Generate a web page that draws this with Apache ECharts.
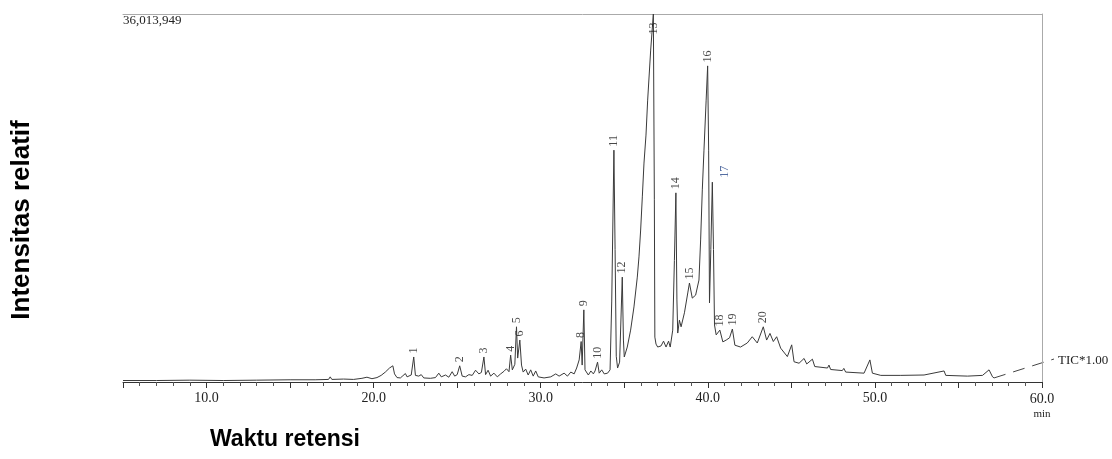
<!DOCTYPE html>
<html>
<head>
<meta charset="utf-8">
<script src="https://cdn.jsdelivr.net/npm/echarts@6/dist/echarts.min.js"></script>
<style>
    html, body { margin: 0; padding: 0; background: #fff; }
    #chart { width: 1112px; height: 459px; }
</style>
</head>
<body>
<div id="chart"></div>
<script>
// TIC trace: retention time (min) and relative intensity (% of 36,013,949)
var retentionTime = [
    5.0, 7.0, 9.0, 11.0, 13.0, 15.0, 16.5, 17.3, 17.4, 17.5, 18.2, 18.8, 19.3, 19.6, 19.9,
    20.2, 20.45, 20.7, 20.95, 21.15, 21.25, 21.4, 21.6, 21.75, 21.9, 22.0, 22.25, 22.4, 22.5, 22.7,
    22.85, 23.0, 23.4, 23.7, 23.9, 24.05, 24.3, 24.5, 24.7, 24.85, 25.0, 25.15, 25.3, 25.5, 25.7,
    25.9, 26.1, 26.3, 26.45, 26.6, 26.7, 26.85, 27.0, 27.2, 27.4, 27.6, 27.8, 27.95, 28.1, 28.2,
    28.3, 28.45, 28.55, 28.62, 28.75, 28.85, 28.95, 29.1, 29.25, 29.4, 29.55, 29.7, 29.85, 30.2, 30.6,
    30.9, 31.1, 31.4, 31.6, 31.8, 32.0, 32.15, 32.3, 32.42, 32.48, 32.58, 32.65, 32.85, 33.0, 33.15,
    33.25, 33.4, 33.5, 33.65, 33.8, 34.0, 34.15, 34.25, 34.38, 34.45, 34.52, 34.6, 34.72, 34.88, 34.95,
    35.0, 35.18, 35.38, 35.58, 35.78, 35.88, 35.98, 36.08, 36.18, 36.3, 36.4, 36.58, 36.74, 36.8, 36.83,
    36.9, 37.0, 37.2, 37.35, 37.5, 37.65, 37.75, 37.9, 38.0, 38.09, 38.15, 38.2, 38.3, 38.4, 38.6,
    38.8, 38.9, 39.07, 39.27, 39.47, 39.57, 39.67, 39.77, 39.9, 39.99, 40.05, 40.1, 40.18, 40.27, 40.34,
    40.4, 40.5, 40.6, 40.72, 40.9, 41.1, 41.3, 41.47, 41.62, 41.96, 42.36, 42.66, 42.96, 43.32, 43.52,
    43.72, 43.92, 44.12, 44.36, 44.76, 45.02, 45.16, 45.46, 45.76, 45.92, 46.26, 46.4, 47.16, 47.25, 47.35,
    48.05, 48.14, 48.25, 49.35, 49.7, 49.85, 50.35, 51.55, 52.94, 54.14, 54.24, 55.54, 56.44, 56.83, 57.04,
    57.13
];
var intensity = [
    0.4, 0.4, 0.5, 0.4, 0.5, 0.6, 0.6, 0.7, 1.4, 0.7, 0.8, 0.7, 1.0, 1.3, 0.9,
    1.2, 1.8, 2.7, 3.8, 4.4, 2.2, 1.2, 1.1, 1.7, 2.3, 1.4, 1.9, 6.8, 1.8, 1.6,
    2.0, 1.1, 1.0, 1.2, 2.4, 1.4, 1.9, 1.3, 2.8, 1.6, 2.0, 4.4, 1.6, 1.4, 2.0,
    1.8, 3.2, 2.2, 2.6, 6.8, 2.0, 3.2, 1.6, 2.4, 1.4, 2.2, 2.9, 3.6, 2.8, 7.3,
    3.3, 4.8, 15.0, 6.5, 11.4, 4.6, 2.7, 3.5, 1.9, 3.3, 1.6, 3.0, 1.4, 1.1, 1.4,
    2.2, 1.6, 2.4, 1.6, 2.7, 2.2, 3.8, 6.0, 11.0, 4.6, 19.6, 3.3, 1.9, 3.0, 2.2,
    3.0, 5.4, 2.4, 3.3, 2.2, 2.4, 3.3, 22, 63, 36, 7, 3.8, 5.4, 28.5, 11.4,
    6.8, 9.5, 14.1, 20.4, 28.5, 34, 41.3, 50.3, 59.5, 67.1, 76.6, 90.2, 100, 49.5, 12.2,
    10.3, 9.5, 9.8, 11.1, 9.5, 11.1, 9.5, 14.1, 33, 51.4, 22.3, 13.3, 16.8, 15, 18.8,
    24.2, 26.9, 22.8, 23.6, 27.7, 38.6, 52.2, 63, 76.6, 85.9, 63, 21.5, 36, 54.3, 36,
    15.5, 12.8, 13.3, 14.1, 10.9, 11.4, 12, 14.4, 10, 9.5, 10.6, 12.3, 10.6, 15.0, 11.4,
    13.2, 11, 12.3, 9.2, 6.9, 10.1, 5.5, 5.1, 6.4, 4.9, 6.2, 4.2, 3.8, 4.6, 3.4,
    3.1, 3.7, 2.7, 2.4, 6.0, 2.4, 1.8, 1.8, 1.9, 3.0, 1.8, 1.6, 1.8, 3.3, 1.4,
    1.1
];

// numbered peaks
var peakNames = ['1', '2', '3', '4', '5', '6', '8', '9', '10', '11', '12', '13', '14', '15', '16', '17', '18', '19', '20'];
var peakTimes = [22.4, 25.15, 26.6, 28.2, 28.55, 28.75, 32.42, 32.58, 33.4, 34.38, 34.88, 36.74, 38.09, 38.9, 39.99, 40.27, 40.72, 41.47, 43.32];

var xTickLabels = ['10.0', '20.0', '30.0', '40.0', '50.0', '60.0'];
var maxCount = '36,013,949';

var traceData = retentionTime.map(function (t, i) { return [t, intensity[i]]; });

// height of the trace at a peak time
function heightAt(t) {
    var best = 0, d = Infinity;
    retentionTime.forEach(function (rt, i) {
        if (Math.abs(rt - t) < d) { d = Math.abs(rt - t); best = intensity[i]; }
    });
    return best;
}

var peakData = peakNames.map(function (name, i) {
    var item = { name: name, value: [peakTimes[i], heightAt(peakTimes[i])] };
    if (name === '13') {
        item.label = { position: 'bottom', align: 'right', distance: 8 };
    }
    if (name === '17') {
        // label sits a bit to the right of its peak
        item.label = { color: '#2b4a8b', offset: [0, 13], distance: 4 };
    }
    return item;
});

var serif = '"Liberation Serif", "DejaVu Serif", serif';
var sans = '"Liberation Sans", Arial, sans-serif';

var myChart = echarts.init(document.getElementById('chart'));

var option = {
    animation: false,
    grid: { left: 123, right: 70, top: 14, bottom: 77 },
    xAxis: [
        {
            type: 'value', min: 5, max: 60, interval: 1, position: 'bottom',
            axisLine: { lineStyle: { color: '#333', width: 1 } },
            axisTick: { length: 4, lineStyle: { color: '#555' } },
            axisLabel: { show: false },
            splitLine: { show: false }
        },
        {
            type: 'value', min: 5, max: 60, interval: 5, position: 'bottom',
            axisLine: { show: false },
            axisTick: { length: 6, lineStyle: { color: '#333' } },
            axisLabel: {
                margin: 9,
                showMaxLabel: true,
                showMinLabel: true,
                fontFamily: serif,
                fontSize: 14,
                color: '#222',
                formatter: function (v) {
                    var s = v.toFixed(1);
                    if (xTickLabels.indexOf(s) < 0) return '';
                    if (v === 60) return '{a|' + s + '}\n{b|min}';
                    return s;
                },
                rich: {
                    a: { fontFamily: serif, fontSize: 14, color: '#222', lineHeight: 16 },
                    b: { fontFamily: serif, fontSize: 11, color: '#222', lineHeight: 14 }
                }
            },
            splitLine: { show: false }
        },
        {
            type: 'value', min: 5, max: 60, position: 'top',
            axisLine: { lineStyle: { color: '#aaa', width: 1 } },
            axisTick: { show: false },
            axisLabel: { show: false },
            splitLine: { show: false }
        }
    ],
    yAxis: [
        {
            type: 'value', min: 0, max: 100,
            axisLine: { show: false },
            axisTick: { show: false },
            axisLabel: { show: false },
            splitLine: { show: false }
        },
        {
            type: 'value', min: 0, max: 100, position: 'right',
            axisLine: { show: true, lineStyle: { color: '#aaa', width: 1 } },
            axisTick: { show: false },
            axisLabel: { show: false },
            splitLine: { show: false }
        }
    ],
    series: [
        {
            name: 'TIC',
            type: 'line',
            data: traceData,
            showSymbol: false,
            lineStyle: { color: '#3a3a3a', width: 1 },
            z: 3
        },
        {
            name: 'peaks',
            type: 'scatter',
            data: peakData,
            symbolSize: 1,
            itemStyle: { color: 'rgba(0,0,0,0)' },
            label: {
                show: true,
                position: 'top',
                distance: 3,
                rotate: 90,
                align: 'left',
                verticalAlign: 'middle',
                fontFamily: serif,
                fontSize: 12,
                color: '#1a1a1a',
                formatter: '{b}'
            },
            z: 4
        }
    ]
};

myChart.setOption(option);

// texts and the dashed leader from the end of the trace to the TIC label
var p0 = myChart.convertToPixel({ xAxisIndex: 0, yAxisIndex: 0 }, [57.13, 1.1]);
myChart.setOption({
    graphic: [
        {
            id: 'maxCount', type: 'text', left: 123, top: 14,
            style: { text: maxCount, font: '13px ' + serif, fill: '#222' }
        },
        {
            id: 'ticLabel', type: 'text', left: 1058, top: 354,
            style: { text: 'TIC*1.00', font: '13px ' + serif, fill: '#222' }
        },
        {
            id: 'yTitle', type: 'text', x: 22, y: 220, rotation: Math.PI / 2,
            style: { text: 'Intensitas relatif', font: 'bold 26px ' + sans, fill: '#000', align: 'center', verticalAlign: 'middle' }
        },
        {
            id: 'xTitle', type: 'text', x: 285, y: 440,
            style: { text: 'Waktu retensi', font: 'bold 23px ' + sans, fill: '#000', align: 'center', verticalAlign: 'middle' }
        },
        {
            id: 'ticLeader', type: 'line',
            shape: { x1: p0[0], y1: p0[1], x2: 1054, y2: 359 },
            style: { stroke: '#444', lineWidth: 1, lineDash: [12, 8] }
        }
    ]
});

window.addEventListener('resize', function () {
    myChart.resize();
});
</script>
</body>
</html>
